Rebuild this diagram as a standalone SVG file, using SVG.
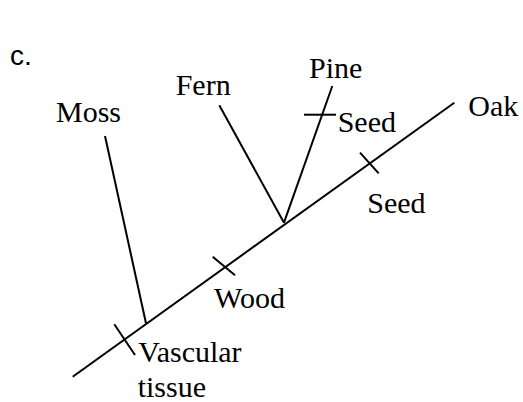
<svg xmlns="http://www.w3.org/2000/svg" width="523" height="402" viewBox="0 0 523 402">
<style>
.ln{stroke:#000;stroke-width:2;fill:none;stroke-linecap:butt}
.t{font-family:"Liberation Serif","Times New Roman",serif;font-size:30px;fill:#000}
.s{font-family:"Liberation Sans",Arial,sans-serif;font-size:28px;fill:#000}
</style>
<rect width="523" height="402" fill="#fff"/>
<text class="s" x="10" y="65">c.</text>
<g id="connectors">
<line class="ln" x1="72.7" y1="376.7" x2="454.3" y2="102.7"/>
<line class="ln" x1="105" y1="136" x2="146" y2="323.3"/>
<line class="ln" x1="219.3" y1="105.3" x2="284" y2="222.7"/>
<line class="ln" x1="332.3" y1="86" x2="284" y2="222.7"/>
</g>
<g id="tick-seed-pine"><line class="ln" x1="304" y1="114.7" x2="336" y2="114.7"/><text class="t" x="337.7" y="131.7">Seed</text></g>
<g id="tick-vascular"><line class="ln" x1="114.3" y1="324.3" x2="135" y2="355"/><text class="t" x="138.3" y="361.7">Vascular</text><text class="t" x="137.7" y="397">tissue</text></g>
<g id="tick-wood"><line class="ln" x1="212.7" y1="256.7" x2="235" y2="275.3"/><text class="t" x="214" y="308.3">Wood</text></g>
<g id="tick-seed-oak"><line class="ln" x1="360" y1="152.7" x2="378.7" y2="173.3"/><text class="t" x="367.3" y="213.3">Seed</text></g>
<g id="moss"><text class="t" x="56" y="121.7">Moss</text></g>
<g id="fern"><text class="t" x="175.7" y="95">Fern</text></g>
<g id="pine"><text class="t" x="309" y="78.3">Pine</text></g>
<g id="oak"><text class="t" x="468.3" y="115.7">Oak</text></g>
</svg>
